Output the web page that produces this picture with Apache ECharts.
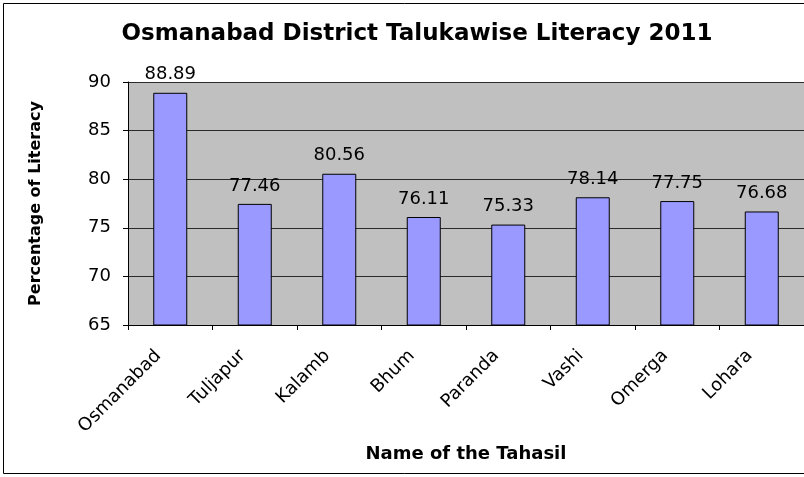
<!DOCTYPE html>
<html>
<head>
<meta charset="utf-8">
<script src="https://cdn.jsdelivr.net/npm/echarts@6/dist/echarts.min.js"></script>
<style>
  html, body { margin: 0; padding: 0; background: #fff; }
  #main { width: 804px; height: 477px; }
</style>
</head>
<body>
<div id="main"></div>
<script>
// 数据
const tahasils = ["Osmanabad", "Tuljapur", "Kalamb", "Bhum", "Paranda", "Vashi", "Omerga", "Lohara"]
const literacy = [88.89, 77.46, 80.56, 76.11, 75.33, 78.14, 77.75, 76.68]

const font = "'DejaVu Sans', Arial, sans-serif"

const option = {
    animation: false,
    backgroundColor: '#fff',
    title: {
        text: "Osmanabad District Talukawise Literacy 2011",
        left: 412,
        textAlign: 'center',
        top: 18,
        textStyle: { fontFamily: font, fontSize: 23, fontWeight: 'bold', color: '#000' }
    },
    graphic: [{
        type: 'rect',
        shape: { x: 3.5, y: 3.5, width: 860, height: 470 },
        style: { fill: null, stroke: '#000', lineWidth: 1 },
        silent: true
    }],
    grid: {
        left: 128,
        top: 82,
        width: 679,
        height: 243,
        show: true,
        backgroundColor: '#c0c0c0',
        borderWidth: 0
    },
    xAxis: {
        type: 'category',
        data: tahasils,
        name: "Name of the Tahasil",
        nameLocation: 'middle',
        nameGap: 120,
        nameTextStyle: { fontFamily: font, fontSize: 18, fontWeight: 'bold', color: '#000' },
        axisLine: { lineStyle: { color: '#000', width: 1 } },
        axisTick: { show: true, length: 5, lineStyle: { color: '#000' } },
        axisLabel: {
            rotate: 45, fontFamily: font, fontSize: 18, color: '#000',
            margin: 16, interval: 0, padding: [0, 17, 0, 0]
        }
    },
    yAxis: {
        type: 'value',
        min: 65,
        max: 90,
        interval: 5,
        name: "Percentage of Literacy",
        nameLocation: 'middle',
        nameGap: 84,
        nameTextStyle: { fontFamily: font, fontSize: 16, fontWeight: 'bold', color: '#000' },
        axisLine: { show: true, lineStyle: { color: '#000' } },
        axisTick: { show: true, length: 5, lineStyle: { color: '#000' } },
        axisLabel: { fontFamily: font, fontSize: 18, color: '#000', margin: 17 },
        splitLine: { show: true, lineStyle: { color: '#2a2a2a', width: 1 } }
    },
    series: [{
        type: 'bar',
        data: literacy,
        barWidth: 34,
        itemStyle: { color: '#9999ff', borderColor: '#000', borderWidth: 1 },
        label: {
            show: true,
            position: 'top',
            distance: 9,
            fontFamily: font,
            fontSize: 18,
            color: '#000'
        }
    }]
}

const myChart = echarts.init(document.getElementById('main'))
myChart.setOption(option)
</script>
</body>
</html>
